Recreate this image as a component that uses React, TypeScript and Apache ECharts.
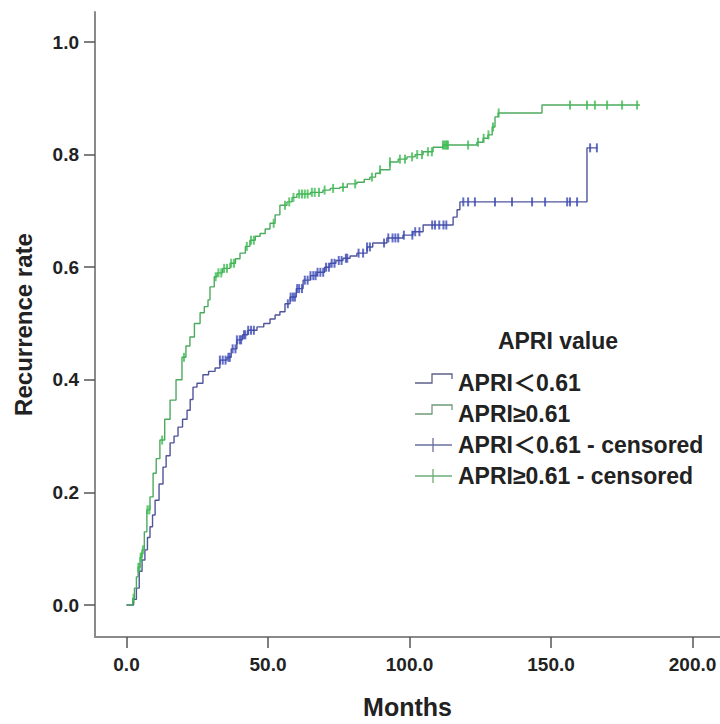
import React, { useEffect, useRef } from "react";
import * as echarts from "echarts";

// ---- Data ----
const xTicks = [0, 50, 100, 150, 200];
const yTicks = [0, 0.2, 0.4, 0.6, 0.8, 1.0];

// APRI >= 0.61 (green) : event times (months) and cumulative recurrence rate
const greenTimes = [0, 2.2, 2.8, 3.5, 4.1, 4.8, 5.5, 6.3, 7.2, 8.3, 9.4, 10.5, 11.8, 13.5, 15.4, 17.5, 19.6, 21, 22.4, 24, 26, 27.5, 28.8, 29.5, 31, 32, 34, 36.6, 38.5, 40.1, 42, 43.6, 45.5, 47.2, 49, 50.7, 52.5, 54.2, 56.7, 58.5, 60.2, 65, 69.4, 72, 75.4, 78, 81.4, 84, 86, 88, 89.6, 93.1, 96, 99.1, 102, 104.8, 108.3, 111.8, 123.8, 126, 127.7, 129.2, 130.2, 131.3, 146.8, 181.4];
const greenRates = [0, 0.012, 0.03, 0.05, 0.067, 0.085, 0.098, 0.13, 0.169, 0.192, 0.234, 0.26, 0.293, 0.33, 0.364, 0.4, 0.44, 0.46, 0.476, 0.5, 0.519, 0.53, 0.542, 0.565, 0.583, 0.59, 0.598, 0.607, 0.615, 0.625, 0.637, 0.648, 0.655, 0.66, 0.668, 0.678, 0.693, 0.71, 0.716, 0.724, 0.73, 0.733, 0.737, 0.74, 0.742, 0.748, 0.751, 0.756, 0.76, 0.767, 0.773, 0.787, 0.792, 0.796, 0.8, 0.805, 0.813, 0.817, 0.822, 0.829, 0.835, 0.849, 0.867, 0.874, 0.888, 0.888];

// APRI < 0.61 (blue)
const blueTimes = [0, 2.5, 3.5, 4.5, 5.5, 6.5, 7.4, 8.3, 9.2, 10.1, 11.5, 12.9, 14, 15.4, 16.8, 18.2, 19.8, 21.4, 22.5, 23.5, 24.9, 27, 29, 31.3, 33, 35.5, 37, 39, 41, 42.9, 46.1, 48.5, 50.7, 52.5, 54.2, 56, 57.8, 60, 62.4, 65, 67.3, 70, 71.9, 74, 76.5, 79, 81.4, 85, 87, 92, 97.7, 101.2, 104.8, 115.4, 116.8, 117.8, 162.7, 166.4];
const blueRates = [0, 0.01, 0.03, 0.06, 0.08, 0.098, 0.12, 0.139, 0.16, 0.186, 0.215, 0.245, 0.265, 0.288, 0.3, 0.316, 0.33, 0.346, 0.365, 0.387, 0.394, 0.409, 0.415, 0.421, 0.435, 0.44, 0.455, 0.471, 0.48, 0.488, 0.494, 0.5, 0.508, 0.515, 0.521, 0.535, 0.547, 0.562, 0.577, 0.585, 0.591, 0.6, 0.607, 0.612, 0.616, 0.62, 0.625, 0.636, 0.643, 0.652, 0.657, 0.663, 0.675, 0.689, 0.702, 0.716, 0.812, 0.812];

// Censored observation times (months)
const greenCensored = [2.5, 4.2, 4.6, 5.0, 5.3, 5.8, 7.4, 8.1, 12.6, 20.3, 31.5, 32.5, 33.5, 34.5, 35.5, 37, 38, 42.5, 44, 45, 52, 56, 57.5, 59, 61, 62, 63, 64, 65.5, 66.5, 68, 70, 73, 76.5, 80.8, 86.7, 89.6, 93.1, 96.6, 98.4, 100.9, 102.7, 104.4, 106.5, 107.9, 111.8, 112.3, 112.8, 113.2, 113.6, 120.7, 124.2, 126.2, 127.9, 129.5, 131.5, 156.7, 162.7, 165.5, 169.8, 175.1, 180.4];
const blueCensored = [33, 34, 35, 36, 36.5, 37.5, 38.5, 39, 40, 40.5, 41.5, 42, 43, 44, 45, 57, 58, 58.8, 59.5, 60.3, 61, 62, 63, 64, 65, 66, 66.8, 67.5, 68.5, 69.5, 70.5, 71.5, 72.5, 73.5, 75, 76, 77.5, 78, 82, 83.6, 85, 86, 91, 92.5, 94, 95, 96, 98, 101, 102, 103.5, 108, 109, 110.5, 112, 113, 119, 120.7, 123.1, 130.2, 136.2, 143.3, 147.9, 155.7, 156.7, 159.2, 163.8, 166.2];

const seriesNames = ["APRI＜0.61", "APRI≥0.61", "APRI＜0.61 - censored", "APRI≥0.61 - censored"];
const legendTitle = "APRI value";

const FONT = '"Liberation Sans", Arial, "Noto Sans CJK SC", sans-serif';
const BLUE_LINE = "#50559a";
const GREEN_LINE = "#4caa5e";
const BLUE_MARK = "#3b4ab8";
const GREEN_MARK = "#3dbd52";

function stepValue(times: number[], rates: number[], t: number): number {
  let v = rates[0];
  for (let i = 0; i < times.length; i++) {
    if (times[i] <= t) v = rates[i];
    else break;
  }
  return v;
}

export default function App() {
  const ref = useRef<HTMLDivElement>(null);
  useEffect(() => {
    document.body.style.margin = "0";
    if (!ref.current) return;
    const chart = echarts.init(ref.current, null, { renderer: "svg" });

    const greenData = greenTimes.map((t, i) => [t, greenRates[i]]);
    const blueData = blueTimes.map((t, i) => [t, blueRates[i]]);
    const greenCens = greenCensored.map((t) => [t, stepValue(greenTimes, greenRates, t)]);
    const blueCens = blueCensored.map((t) => [t, stepValue(blueTimes, blueRates, t)]);

    const labelStyle = { fontFamily: FONT, fontWeight: "bold" as const, color: "#222", fontSize: 19 };
    const rowY = [383, 414, 445, 476];
    const legendTextFont = `bold 23px ${FONT}`;

    chart.setOption({
      animation: false,
      backgroundColor: "#ffffff",
      grid: { left: 95, right: 0, top: 12, bottom: 87, containLabel: false, outerBoundsMode: "none" },
      xAxis: {
        type: "value",
        min: -11.13,
        max: 209.7,
        name: "Months",
        nameLocation: "middle",
        nameGap: 57,
        nameTextStyle: { fontFamily: FONT, fontWeight: "bold", fontSize: 25, color: "#222" },
        axisLine: { show: true, onZero: false, lineStyle: { color: "#8a8a8a", width: 2 } },
        axisTick: { show: true, length: 11, customValues: xTicks, lineStyle: { color: "#555", width: 1.5 } },
        axisLabel: { ...labelStyle, customValues: xTicks, margin: 18, formatter: (v: number) => v.toFixed(1) },
        splitLine: { show: false },
      },
      yAxis: {
        type: "value",
        min: -0.0568,
        max: 1.0533,
        name: "Recurrence rate",
        nameLocation: "middle",
        nameGap: 60,
        nameTextStyle: { fontFamily: FONT, fontWeight: "bold", fontSize: 24, color: "#222" },
        axisLine: { show: true, onZero: false, lineStyle: { color: "#8a8a8a", width: 2 } },
        axisTick: { show: true, length: 11, customValues: yTicks, lineStyle: { color: "#555", width: 1.5 } },
        axisLabel: { ...labelStyle, customValues: yTicks, margin: 16, formatter: (v: number) => v.toFixed(1) },
        splitLine: { show: false },
      },
      series: [
        {
          name: seriesNames[0],
          type: "line",
          step: "end",
          data: blueData,
          showSymbol: false,
          lineStyle: { color: BLUE_LINE, width: 1.4 },
          z: 2,
        },
        {
          name: seriesNames[1],
          type: "line",
          step: "end",
          data: greenData,
          showSymbol: false,
          lineStyle: { color: GREEN_LINE, width: 1.4 },
          z: 2,
        },
        {
          name: seriesNames[2],
          type: "scatter",
          data: blueCens,
          symbol: "rect",
          symbolSize: [2, 9],
          itemStyle: { color: BLUE_MARK },
          z: 3,
        },
        {
          name: seriesNames[3],
          type: "scatter",
          data: greenCens,
          symbol: "rect",
          symbolSize: [2, 9],
          itemStyle: { color: GREEN_MARK },
          z: 3,
        },
      ],
      graphic: [
        {
          type: "text",
          x: 558,
          y: 341,
          style: { text: legendTitle, font: legendTextFont, fill: "#222", align: "center", verticalAlign: "middle" },
        },
        {
          type: "polyline",
          shape: { points: [[415, rowY[0]], [432, rowY[0]], [432, rowY[0] - 9], [452, rowY[0] - 9], [452, rowY[0] - 4]] },
          style: { stroke: "#5c6088", lineWidth: 1.3, fill: null },
        },
        {
          type: "polyline",
          shape: { points: [[415, rowY[1]], [432, rowY[1]], [432, rowY[1] - 9], [452, rowY[1] - 9], [452, rowY[1] - 4]] },
          style: { stroke: "#6f9a78", lineWidth: 1.3, fill: null },
        },
        {
          type: "line",
          shape: { x1: 415, y1: rowY[2], x2: 452, y2: rowY[2] },
          style: { stroke: "#6a6f9c", lineWidth: 1.3 },
        },
        {
          type: "line",
          shape: { x1: 433, y1: rowY[2] - 7, x2: 433, y2: rowY[2] + 7 },
          style: { stroke: "#6a6f9c", lineWidth: 1.3 },
        },
        {
          type: "line",
          shape: { x1: 415, y1: rowY[3], x2: 452, y2: rowY[3] },
          style: { stroke: "#6aae78", lineWidth: 1.3 },
        },
        {
          type: "line",
          shape: { x1: 433, y1: rowY[3] - 7, x2: 433, y2: rowY[3] + 7 },
          style: { stroke: "#6aae78", lineWidth: 1.3 },
        },
        ...seriesNames.map((n, i) => ({
          type: "text",
          x: 458,
          y: rowY[i],
          style: { text: n, font: legendTextFont, fill: "#222", align: "left", verticalAlign: "middle" },
        })),
      ],
    });
    return () => chart.dispose();
  }, []);
  return <div ref={ref} style={{ width: 720, height: 724 }} />;
}
